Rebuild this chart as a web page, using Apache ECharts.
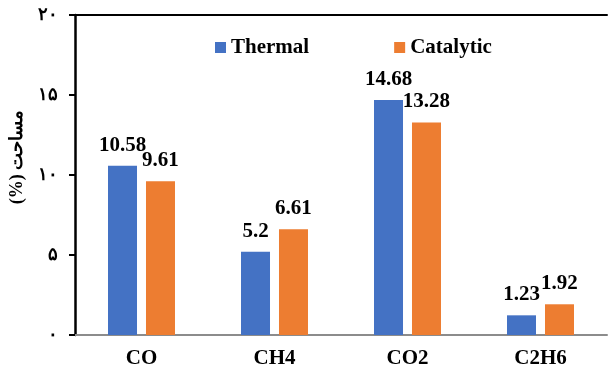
<!DOCTYPE html>
<html><head><meta charset="utf-8">
<script src="https://cdn.jsdelivr.net/npm/echarts@6/dist/echarts.min.js"></script>
<style>html,body{margin:0;padding:0;background:#fff}#c{width:608px;height:374px}</style>
</head><body><div id="c"></div>
<script>
var categories = ['CO', 'CH4', 'CO2', 'C2H6'];
var thermal = [10.58, 5.2, 14.68, 1.23];
var catalytic = [9.61, 6.61, 13.28, 1.92];
var yTickLabels = {0: '۰', 5: '۵', 10: '۱۰', 15: '۱۵', 20: '۲۰'};
var yTitle = '\u200Fمساحت (%)\u200F';

var chart = echarts.init(document.getElementById('c'), null, {renderer: 'canvas'});
var serif = '"Liberation Serif", "Times New Roman", serif';
var lbl = {show: true, position: 'top', distance: 10, fontFamily: serif, fontWeight: 'bold', fontSize: 21, color: '#000'};
chart.setOption({
  animation: false,
  grid: {left: 75, right: 1, top: 15, bottom: 39, containLabel: false, outerBoundsMode: 'none'},
  legend: {
    top: 32, left: 210, itemGap: 85, itemWidth: 11, itemHeight: 11, icon: 'rect',
    textStyle: {fontFamily: serif, fontWeight: 'bold', fontSize: 21, color: '#000'},
    data: ['Thermal', 'Catalytic']
  },
  xAxis: [{
    type: 'category', data: categories,
    axisLine: {lineStyle: {color: '#8c8c8c', width: 2}},
    axisTick: {show: false},
    axisLabel: {fontFamily: serif, fontWeight: 'bold', fontSize: 21, color: '#000', margin: 13}
  }, {
    type: 'category', data: categories, position: 'top',
    axisLine: {show: true, lineStyle: {color: '#000', width: 2}},
    axisTick: {show: false}, axisLabel: {show: false}
  }],
  yAxis: {
    type: 'value', min: 0, max: 20, interval: 5,
    name: yTitle, nameLocation: 'middle', nameGap: 49, nameRotate: 90,
    nameTextStyle: {fontFamily: serif, fontWeight: 'bold', fontSize: 18, color: '#000', padding: [0, 0, 0, 36]},
    axisLine: {show: true, lineStyle: {color: '#000', width: 2.5}},
    axisTick: {show: true, length: 6, lineStyle: {color: '#000', width: 2}},
    splitLine: {show: false},
    axisLabel: {formatter: function (v) { return yTickLabels[v]; }, fontFamily: serif, fontWeight: 'bold', fontSize: 18, color: '#000', margin: 17}
  },
  series: [{
    name: 'Thermal', type: 'bar', data: thermal, barWidth: 29, barGap: '31%',
    itemStyle: {color: '#4472c4'}, label: lbl
  }, {
    name: 'Catalytic', type: 'bar', data: catalytic, barWidth: 29,
    itemStyle: {color: '#ed7d31'}, label: lbl
  }]
});
</script></body></html>
